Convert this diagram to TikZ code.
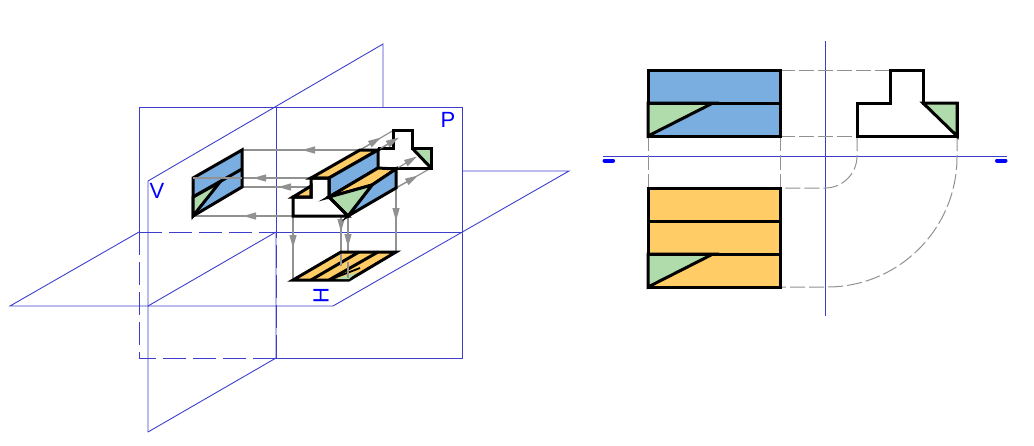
\documentclass[tikz,border=0pt]{standalone}
\usepackage{xcolor}
\usepackage{fontspec}
\setmainfont{Liberation Sans}
\usetikzlibrary{arrows.meta}
\definecolor{planeblue}{RGB}{62,62,205}
\definecolor{faceblue}{RGB}{122,174,224}
\definecolor{faceyellow}{RGB}{255,204,102}
\definecolor{facegreen}{RGB}{176,219,170}
\definecolor{projgray}{RGB}{145,145,145}
\tikzset{
  plane/.style={planeblue, line width=0.9pt},
  planedash/.style={plane, dash pattern=on 23pt off 7pt},
  edge/.style={black, line width=3pt, line join=miter},
  projline/.style={projgray, line width=1.2pt},
  projarrow/.style={projgray, line width=1.2pt, -{Triangle[length=13pt,width=7pt]}},
  foldline/.style={projgray, line width=1pt, dash pattern=on 15pt off 4pt},
  planelabel/.style={blue, font=\fontsize{22pt}{23pt}\selectfont, inner sep=0pt}
}
\begin{document}
\begin{tikzpicture}[x=1pt,y=-1pt]
    \useasboundingbox (0,0) rectangle (1034,445);

    % V plane
    \draw[plane] (148,432) -- (148,181) -- (383,44) -- (383,107);
    \draw[plane] (148,432) -- (276,358) -- (276,232);
    \draw[plane] (276,232) -- (276,107);
    \draw[plane] (148,306) -- (276,232);

    % P plane
    \draw[plane] (139,232) -- (139,107) -- (462,107) -- (462,358) -- (276,358);
    \draw[planedash] (139,232) -- (139,358) -- (276,358);
    \draw[planedash] (139,232) -- (276,232) -- (276,358);

    % H plane
    \draw[plane] (139,232) -- (10,306) -- (333,306) -- (569,171) -- (462,171);
    \draw[plane] (276,232) -- (462,232);

    \node[planelabel] (labelV) at (157,191) {V};
    \node[planelabel] (labelP) at (448,120) {P};
    \node[planelabel, rotate=90] (labelH) at (321,296) {H};

    % Projection lines to V
    \draw[projline] (360,150) -- (242,150);
    \draw[projarrow] (360,150) -- (302,150);
    \draw[projline] (311,178) -- (193,178);
    \draw[projarrow] (311,178) -- (253,178);
    \draw[projline] (293,187) -- (242,187);
    \draw[projarrow] (311,187) -- (278,187);
    \draw[projline] (293,216) -- (193,216);
    \draw[projarrow] (293,216) -- (243,216);

    % Projection lines to P
    \draw[projline] (360,150) -- (394,130);
    \draw[projarrow] (360,150) -- (381,137.5);
    \draw[projline] (378,150) -- (412,130);
    \draw[projarrow] (378,150) -- (399,137.5);
    \draw[projline] (396,169) -- (431,148);
    \draw[projarrow] (396,169) -- (417,156.5);
    \draw[projline] (396,188) -- (431,168);
    \draw[projarrow] (396,188) -- (418,175.5);

    % Projection lines to H
    \draw[projline] (293,216) -- (293,280);
    \draw[projarrow] (293,216) -- (293,248);
    \draw[projline] (341,216) -- (341,252);
    \draw[projarrow] (341,216) -- (341,232);
    \draw[projline] (348,216) -- (348,280);
    \draw[projarrow] (348,216) -- (348,247);
    \draw[projline] (396,188) -- (396,252);
    \draw[projarrow] (396,188) -- (396,221);

    % Object, back face
    \fill[white] (378,148) -- (393,148) -- (393,130) -- (412,130) -- (412,148) -- (431,168) -- (378,168) -- cycle;
    \fill[facegreen] (412,148) -- (431,148) -- (431,168) -- cycle;
    \draw[edge] (378,148) -- (393,148) -- (393,130) -- (412,130) -- (412,148) -- (431,148) -- (431,168) -- (378,168);
    \draw[edge] (412,148) -- (431,168);
    \draw[projarrow] (396,169) -- (417,156.5);
    \draw[projarrow] (378,150) -- (399,137.5);

    % Object, stem and step
    \fill[white] (293,197) -- (311,197) -- (311,178) -- (329,178) -- (329,197) -- (348,216) -- (293,216) -- cycle;
    \filldraw[edge, fill=faceyellow] (311,178) -- (329,178) -- (378,150) -- (360,150) -- cycle;
    \filldraw[edge, fill=faceblue] (329,178) -- (378,150) -- (378,168) -- (329,197) -- cycle;
    \filldraw[edge, fill=faceyellow] (293,197) -- (311,197) -- (311,186) -- cycle;
    \filldraw[edge, fill=faceyellow] (329,197) -- (378,168) -- (396,169) -- (372,185) -- cycle;
    \filldraw[edge, fill=faceblue] (348,216) -- (396,188) -- (396,169) -- (372,185) -- cycle;
    \filldraw[edge, fill=facegreen] (329,197) -- (348,216) -- (372,185) -- cycle;
    \draw[edge] (293,197) -- (311,197) -- (311,178) -- (329,178) -- (329,197) -- (348,216) -- (293,216) -- cycle;

    % Object on V
    \filldraw[edge, fill=faceblue] (193,178) -- (242,150) -- (242,187) -- (193,216) -- cycle;
    \filldraw[edge, fill=facegreen] (193,216) -- (193,197) -- (220,182) -- cycle;
    \draw[edge] (193,197) -- (242,169);
    \draw[projline] (193,178) -- (242,178);

    % Object on H
    \filldraw[edge, fill=faceyellow] (293,280) -- (341,252) -- (396,252) -- (349,280) -- cycle;
    \draw[edge] (311,280) -- (359,252);
    \draw[edge] (329,280) -- (378,252);
    \fill[facegreen] (336,279) -- (349,279) -- (357,272) -- cycle;
    \draw[black, line width=1.8pt] (329,280) -- (360,268);
    \draw[projline] (341,254) -- (341,266);
    \draw[projline] (348,262) -- (348,278);

    % Drawing sheet axes
    \draw[plane] (825,41) -- (825,316);
    \draw[plane] (603,156.5) -- (1007,156.5);
    \draw[blue, line width=4pt, line cap=round] (604.5,160.5) -- (613,160.5);
    \draw[blue, line width=4pt, line cap=round] (997,160.5) -- (1005.5,160.5);

    % Folding lines
    \draw[foldline] (780,70) -- (890,70);
    \draw[foldline] (780,136) -- (857,136);
    \draw[foldline] (648,136) -- (648,188);
    \draw[foldline] (780,136) -- (780,188);
    \draw[foldline] (857,136) -- (857,156) arc[start angle=0, end angle=90, radius=32] -- (780,188);
    \draw[foldline] (957,136) -- (957,157) arc[start angle=0, end angle=90, radius=130] -- (780,287);

    % Front view
    \filldraw[edge, fill=faceblue] (648,70) rectangle (780,136);
    \filldraw[edge, fill=facegreen] (648,103) -- (713,103) -- (648,136) -- cycle;
    \draw[edge] (648,103) -- (780,103);

    % Side view
    \filldraw[edge, fill=white] (890,70) -- (923,70) -- (923,103) -- (957,103) -- (957,136) -- (857,136) -- (857,103) -- (890,103) -- cycle;
    \filldraw[edge, fill=facegreen] (923,103) -- (957,103) -- (957,136) -- cycle;

    % Top view
    \filldraw[edge, fill=faceyellow] (648,188) rectangle (780,287);
    \draw[edge] (648,221) -- (780,221);
    \filldraw[edge, fill=facegreen] (648,254) -- (713,254) -- (648,287) -- cycle;
    \draw[edge] (648,254) -- (780,254);
\end{tikzpicture}
\end{document}
